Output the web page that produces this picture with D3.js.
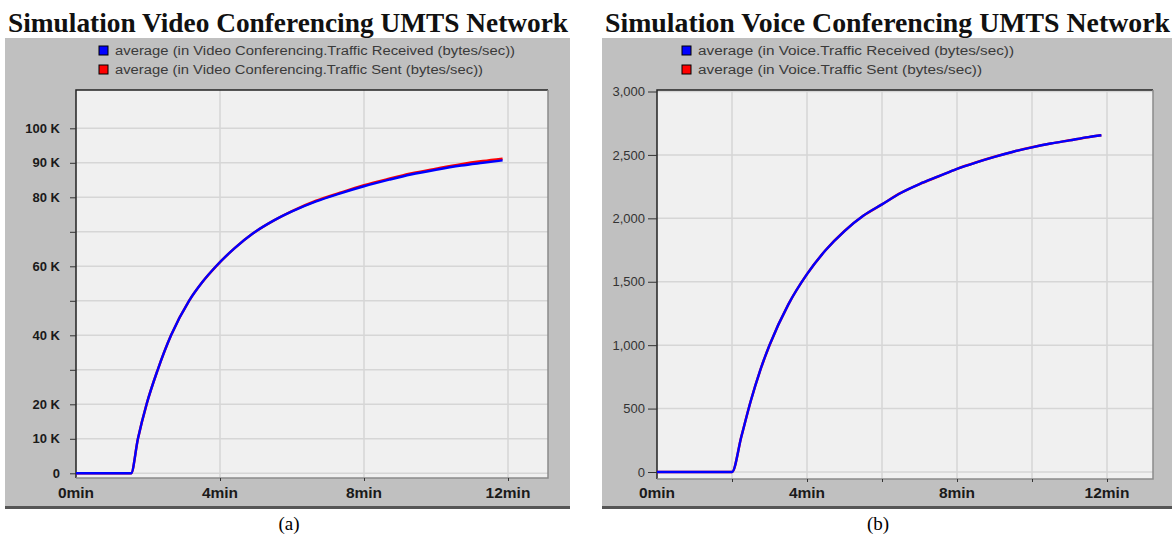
<!DOCTYPE html>
<html>
<head>
<meta charset="utf-8">
<script src="https://cdn.jsdelivr.net/npm/d3@7"></script>
<style>
  body { margin: 0; background: #fff; }
  svg { display: block; }
</style>
</head>
<body>
<div id="chart"></div>
<script>
// data (time in minutes, traffic in bytes/sec)
var videoTimes    = [0, 1.53, 1.72, 1.96, 2.27, 2.64, 3.14, 3.5, 3.89, 4.4, 4.91, 5.5, 6.0, 6.67, 7.3, 8.0, 8.7, 9.3, 10, 10.7, 11.3, 11.85];
var videoReceived = [0, 0, 10000, 20000, 30000, 40000, 50000, 55300, 60000, 65200, 69500, 73300, 75900, 78800, 81000, 83200, 85100, 86600, 88000, 89200, 90000, 90700];
var videoSent     = [0, 0, 10000, 20000, 30000, 40000, 50000, 55300, 60000, 65200, 69500, 73300, 76000, 79000, 81200, 83500, 85400, 86900, 88300, 89600, 90500, 91200];

var voiceTimes    = [0, 2.0, 2.25, 2.5, 2.75, 3.0, 3.5, 4.0, 4.5, 5.0, 5.5, 6.0, 6.5, 7.0, 7.5, 8.0, 8.5, 9.0, 9.5, 10, 10.5, 11, 11.5, 11.85];
var voiceReceived = [0, 0, 280, 560, 800, 1000, 1320, 1560, 1750, 1900, 2020, 2110, 2200, 2270, 2330, 2390, 2440, 2485, 2525, 2560, 2590, 2615, 2640, 2655];
var voiceSent     = [0, 0, 280, 560, 800, 1000, 1320, 1560, 1750, 1900, 2020, 2110, 2200, 2270, 2330, 2390, 2440, 2485, 2525, 2560, 2590, 2615, 2640, 2655];

var xLabelTicks = [0, 4, 8, 12];
var videoGridX = [4, 8, 12];
var voiceGridX = [2, 4, 6, 8, 10, 12];
var videoYTicks = [0, 10000, 20000, 30000, 40000, 50000, 60000, 70000, 80000, 90000, 100000];
var videoYLabels = [0, 10000, 20000, 40000, 60000, 80000, 90000, 100000];
var voiceYTicks = [0, 500, 1000, 1500, 2000, 2500, 3000];

var videoLegend = ["average (in Video Conferencing.Traffic Received (bytes/sec))",
                   "average (in Video Conferencing.Traffic Sent (bytes/sec))"];
var voiceLegend = ["average (in Voice.Traffic Received (bytes/sec))",
                   "average (in Voice.Traffic Sent (bytes/sec))"];

var svg = d3.select("#chart").append("svg")
    .attr("width", 1172)
    .attr("height", 541);

function drawPanel(p) {
  var g = svg.append("g");

  // gray window
  g.append("rect")
    .attr("x", p.panel[0]).attr("y", 38)
    .attr("width", p.panel[1] - p.panel[0]).attr("height", 469)
    .attr("fill", "#c0c0c0");
  g.append("line")
    .attr("x1", p.panel[0]).attr("x2", p.panel[1])
    .attr("y1", 507.5).attr("y2", 507.5)
    .attr("stroke", "#555").attr("stroke-width", 3);

  // title
  g.append("text")
    .attr("x", p.panel[0] + 3).attr("y", 32)
    .attr("textLength", p.panel[1] - p.panel[0] - 5)
    .attr("lengthAdjust", "spacingAndGlyphs")
    .style("font-family", "Liberation Serif, Times New Roman, serif")
    .style("font-weight", "bold")
    .style("font-size", "27px")
    .attr("fill", "#111")
    .text(p.title);

  // legend
  var colors = ["#0000ff", "#ff0000"];
  p.legend.forEach(function(t, i) {
    g.append("rect")
      .attr("x", p.legendX).attr("y", 46 + i * 19)
      .attr("width", 9).attr("height", 9)
      .attr("fill", colors[i]).attr("stroke", "#000").attr("stroke-width", 1);
    g.append("text")
      .attr("x", p.legendX + 16).attr("y", 55 + i * 19)
      .attr("textLength", p.legendLen[i])
      .attr("lengthAdjust", "spacingAndGlyphs")
      .style("font-family", "Liberation Sans, Arial, sans-serif")
      .style("font-size", "12.5px")
      .attr("fill", "#3a3a3a")
      .text(t);
  });

  var x = d3.scaleLinear().domain([0, 12]).range([p.x0, p.x12]);
  var y = d3.scaleLinear().domain([0, p.yMax]).range([p.y0, p.yTop]);

  // plot area
  g.append("rect")
    .attr("x", p.plot[0]).attr("y", p.plot[1])
    .attr("width", p.plot[2] - p.plot[0]).attr("height", p.plot[3] - p.plot[1])
    .attr("fill", "#f0f0f0");

  // grid
  g.append("g").selectAll("line")
    .data(p.yTicks)
    .enter().append("line")
      .attr("x1", p.plot[0]).attr("x2", p.plot[2])
      .attr("y1", function(d) { return y(d); }).attr("y2", function(d) { return y(d); })
      .attr("stroke", "#d6d6d6").attr("stroke-width", 1.5);
  g.append("g").selectAll("line")
    .data(p.gridX)
    .enter().append("line")
      .attr("x1", function(d) { return x(d); }).attr("x2", function(d) { return x(d); })
      .attr("y1", p.plot[1]).attr("y2", p.plot[3])
      .attr("stroke", "#d6d6d6").attr("stroke-width", 1.5);

  // sunken border
  g.append("path")
    .attr("d", "M" + p.plot[0] + "," + p.plot[3] + "V" + p.plot[1] + "H" + p.plot[2])
    .attr("fill", "none").attr("stroke", "#222").attr("stroke-width", 1.5);
  g.append("path")
    .attr("d", "M" + p.plot[2] + "," + p.plot[1] + "V" + p.plot[3] + "H" + p.plot[0])
    .attr("fill", "none").attr("stroke", "#8a8a8a").attr("stroke-width", 1.5);

  // y axis
  var yAxis = g.append("g")
    .attr("transform", "translate(" + p.plot[0] + ",0)")
    .call(d3.axisLeft(y).tickValues(p.yTicks).tickSize(p.yTickSize).tickPadding(p.yPad)
      .tickFormat(function(d) { return p.yLabels.indexOf(d) >= 0 ? p.yFormat(d) : ""; }));
  yAxis.select(".domain").remove();
  yAxis.selectAll("line").attr("stroke", "#333");
  yAxis.selectAll("text")
    .style("font-family", "Liberation Sans, Arial, sans-serif")
    .style("font-size", p.yFontSize)
    .style("font-weight", p.yBold ? "bold" : "normal")
    .attr("fill", p.yBold ? "#1a1a1a" : "#333");

  // x axis
  var xAxis = g.append("g")
    .attr("transform", "translate(0," + p.plot[3] + ")")
    .call(d3.axisBottom(x).tickValues(p.gridX).tickSize(3).tickFormat(""));
  xAxis.select(".domain").remove();
  xAxis.selectAll("line").attr("stroke", "#333");
  g.append("g").selectAll("text")
    .data(xLabelTicks)
    .enter().append("text")
      .attr("x", function(d) { return x(d); })
      .attr("y", 498)
      .attr("text-anchor", "middle")
      .style("font-family", "Liberation Sans, Arial, sans-serif")
      .style("font-size", "15.5px")
      .style("font-weight", "bold")
      .attr("fill", "#1a1a1a")
      .text(function(d) { return d + "min"; });

  // lines: sent below, received on top
  var line = d3.line()
    .x(function(d) { return x(d[0]); })
    .y(function(d) { return y(d[1]); })
    .curve(d3.curveMonotoneX);
  g.append("path")
    .datum(d3.zip(p.times, p.sent))
    .attr("d", line).attr("fill", "none")
    .attr("stroke", "#ff0000").attr("stroke-width", 2.5);
  g.append("path")
    .datum(d3.zip(p.times, p.received))
    .attr("d", line).attr("fill", "none")
    .attr("stroke", "#0000ff").attr("stroke-width", 2.4);

  // caption
  g.append("text")
    .attr("x", p.captionX).attr("y", 530)
    .attr("text-anchor", "middle")
    .style("font-family", "Liberation Serif, Times New Roman, serif")
    .style("font-size", "19px")
    .attr("fill", "#000")
    .text(p.caption);
}

drawPanel({
  panel: [5, 570], title: "Simulation Video Conferencing UMTS Network",
  legend: videoLegend, legendX: 99, legendLen: [400, 368],
  plot: [76, 90, 548, 478],
  x0: 76, x12: 508, y0: 473.3, yTop: 128.3, yMax: 100000,
  yTicks: videoYTicks, yLabels: videoYLabels, yTickSize: 6, yPad: 10,
  yFormat: function(d) { return d === 0 ? "0" : (d / 1000) + " K"; },
  yFontSize: "13px", yBold: true,
  gridX: videoGridX,
  times: videoTimes, received: videoReceived, sent: videoSent,
  caption: "(a)", captionX: 289
});

drawPanel({
  panel: [602, 1172], title: "Simulation Voice Conferencing UMTS Network",
  legend: voiceLegend, legendX: 682, legendLen: [316, 284],
  plot: [657, 90, 1153, 479],
  x0: 657, x12: 1107, y0: 472, yTop: 91.5, yMax: 3000,
  yTicks: voiceYTicks, yLabels: voiceYTicks, yTickSize: 9, yPad: 3,
  yFormat: d3.format(","),
  yFontSize: "13px", yBold: false,
  gridX: voiceGridX,
  times: voiceTimes, received: voiceReceived, sent: voiceSent,
  caption: "(b)", captionX: 878
});
</script>
</body>
</html>
